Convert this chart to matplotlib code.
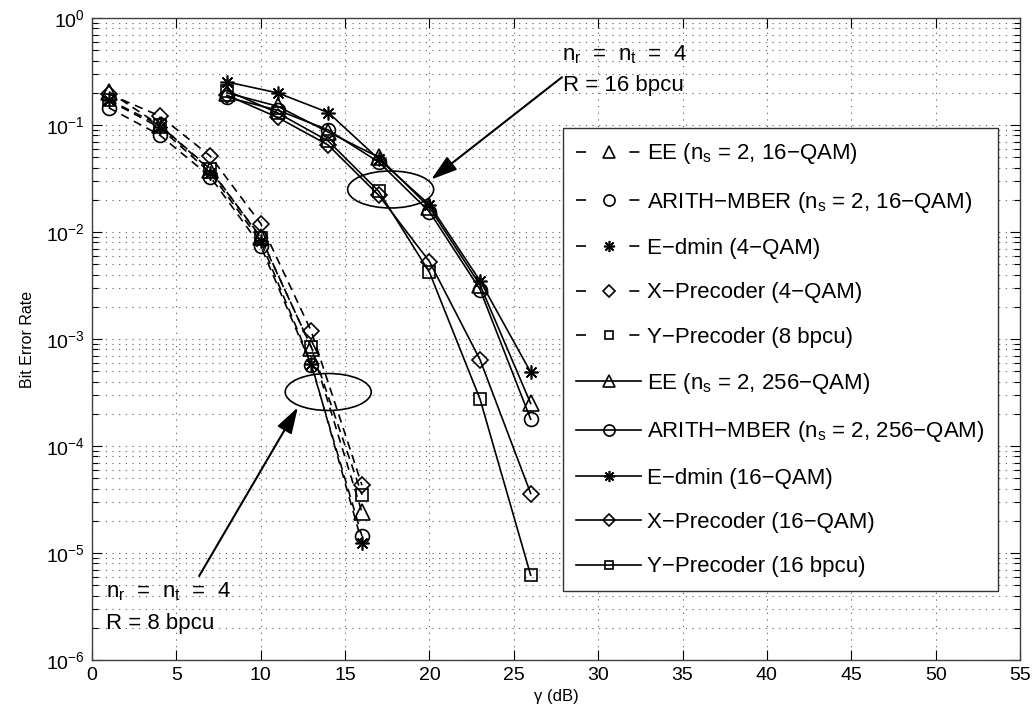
"""BER vs gamma for nr = nt = 4 precoders (8 bpcu dashed, 16 bpcu solid)."""

import matplotlib

matplotlib.use("Agg")
import matplotlib.pyplot as plt
from matplotlib.patches import Ellipse
from matplotlib.ticker import LogLocator, NullFormatter

plt.rcParams["font.family"] = ["Liberation Sans", "DejaVu Sans"]
plt.rcParams["mathtext.fontset"] = "custom"
plt.rcParams["mathtext.rm"] = "Liberation Sans"
plt.rcParams["mathtext.it"] = "Liberation Sans"
plt.rcParams["mathtext.bf"] = "Liberation Sans:bold"

# === Data ===
GAMMA_8BPCU = [1, 4, 7, 10, 13, 16]
GAMMA_16BPCU = [8, 11, 14, 17, 20, 23, 26]

# R = 8 bpcu (dashed)
BER_EE_16QAM = [0.205, 0.100, 0.038, 0.0090, 8.3e-4, 2.4e-5]
BER_ARITH_16QAM = [0.145, 0.081, 0.033, 0.0074, 5.7e-4, 1.44e-5]
BER_EDMIN_4QAM = [0.170, 0.095, 0.036, 0.0082, 5.9e-4, 1.25e-5]
BER_X_4QAM = [0.195, 0.122, 0.0515, 0.0120, 1.18e-3, 4.3e-5]
BER_Y_8BPCU = [0.172, 0.100, 0.039, 0.0088, 8.4e-4, 3.5e-5]

# R = 16 bpcu (solid)
BER_EE_256QAM = [0.200, 0.150, 0.086, 0.050, 0.0170, 0.0032, 2.5e-4]
BER_ARITH_256QAM = [0.182, 0.138, 0.090, 0.045, 0.0155, 0.0029, 1.78e-4]
BER_EDMIN_16QAM = [0.253, 0.200, 0.131, 0.048, 0.0180, 0.0035, 4.9e-4]
BER_X_16QAM = [0.190, 0.118, 0.065, 0.022, 0.0053, 6.4e-4, 3.6e-5]
BER_Y_16BPCU = [0.210, 0.130, 0.071, 0.024, 0.0042, 2.74e-4, 6.2e-6]

LABELS_8BPCU = [
    r"EE ($\mathrm{n_s}$ = 2, 16−QAM)",
    r"ARITH−MBER ($\mathrm{n_s}$ = 2, 16−QAM)",
    "E−dmin (4−QAM)",
    "X−Precoder (4−QAM)",
    "Y−Precoder (8 bpcu)",
]
LABELS_16BPCU = [
    r"EE ($\mathrm{n_s}$ = 2, 256−QAM)",
    r"ARITH−MBER ($\mathrm{n_s}$ = 2, 256−QAM)",
    "E−dmin (16−QAM)",
    "X−Precoder (16−QAM)",
    "Y−Precoder (16 bpcu)",
]

MARKERS = ["^", "o", (8, 2, 0), "D", "s"]
MARKER_SIZES = [11, 10, 10, 8, 8]


def data_to_axes(ax, x, y):
    return ax.transAxes.inverted().transform(ax.transData.transform((x, y)))


def main() -> None:
    fig = plt.figure(figsize=(10.35, 7.24), dpi=100)
    ax = fig.add_axes([0.0889, 0.0884, 0.8966, 0.8866])

    series_8 = [BER_EE_16QAM, BER_ARITH_16QAM, BER_EDMIN_4QAM, BER_X_4QAM, BER_Y_8BPCU]
    series_16 = [BER_EE_256QAM, BER_ARITH_256QAM, BER_EDMIN_16QAM, BER_X_16QAM, BER_Y_16BPCU]

    for ber, lab, mk, ms in zip(series_8, LABELS_8BPCU, MARKERS, MARKER_SIZES):
        ax.semilogy(GAMMA_8BPCU, ber, color="k", lw=1.2, dashes=(5, 3.5),
                    marker=mk, ms=ms, mfc="none", mec="k", mew=1.2, label=lab)
    for ber, lab, mk, ms in zip(series_16, LABELS_16BPCU, MARKERS, MARKER_SIZES):
        ax.semilogy(GAMMA_16BPCU, ber, color="k", lw=1.2, linestyle="-",
                    marker=mk, ms=ms, mfc="none", mec="k", mew=1.2, label=lab)

    ax.set_xlim(0, 55)
    ax.set_ylim(1e-6, 1)
    ax.set_xticks(range(0, 56, 5))
    ax.yaxis.set_major_locator(LogLocator(base=10, numticks=10))
    ax.yaxis.set_minor_locator(LogLocator(base=10, subs=range(2, 10), numticks=100))
    ax.yaxis.set_minor_formatter(NullFormatter())

    ax.grid(True, which="both", color="0.35", linestyle=(0, (1, 5)), lw=0.8)
    ax.tick_params(which="both", direction="in", top=True, right=True, labelsize=14, width=0.8)
    ax.tick_params(which="major", length=7, pad=5)
    ax.tick_params(which="minor", length=4)
    for sp in ax.spines.values():
        sp.set_linewidth(1.0)
        sp.set_color("0.25")

    ax.set_xlabel("γ (dB)", fontsize=12, labelpad=4)
    ax.set_ylabel("Bit Error Rate", fontsize=11.5, labelpad=8)

    leg = ax.legend(loc="upper left", bbox_to_anchor=(0.5075, 0.8287), borderaxespad=0,
                    fontsize=16, labelspacing=1.05, handlelength=2.9, handletextpad=0.3,
                    borderpad=0.6, fancybox=False, framealpha=1, markerscale=0.8)
    leg.get_frame().set_edgecolor("0.2")
    leg.get_frame().set_linewidth(1.0)
    # MATLAB-like legend sample: one dash on each side of the marker
    for legline in leg.get_lines()[:5]:
        legline.set_dashes((6, 26))

    # annotations: ellipses, arrows, system text
    for cx, cy in [(14.0, 3.2e-4), (17.7, 0.025)]:
        center = data_to_axes(ax, cx, cy)
        ax.add_patch(Ellipse(center, 0.0927, 0.0576, transform=ax.transAxes,
                             fill=False, ec="k", lw=1.2, zorder=5))

    arrow = dict(arrowstyle="-|>,head_length=0.8,head_width=0.25", color="k", lw=1.5,
                 mutation_scale=20, shrinkA=0, shrinkB=0)
    ax.annotate("", xy=(12.2, 2.3e-4), xytext=(6.35, 6.1e-6), arrowprops=arrow)
    ax.annotate("", xy=(20.1, 0.031), xytext=(27.85, 0.28), arrowprops=arrow)

    ax.text(0.8, 3.83e-6, r"$\mathrm{n_r}$  =  $\mathrm{n_t}$  =  4", fontsize=16, va="baseline")
    ax.text(0.8, 1.96e-6, "R = 8 bpcu", fontsize=16, va="baseline")
    ax.text(27.84, 0.40, r"$\mathrm{n_r}$  =  $\mathrm{n_t}$  =  4", fontsize=16, va="baseline")
    ax.text(27.9, 0.21, "R = 16 bpcu", fontsize=16, va="baseline")

    fig.savefig("out.png", dpi=100)
    plt.close(fig)


if __name__ == "__main__":
    main()
